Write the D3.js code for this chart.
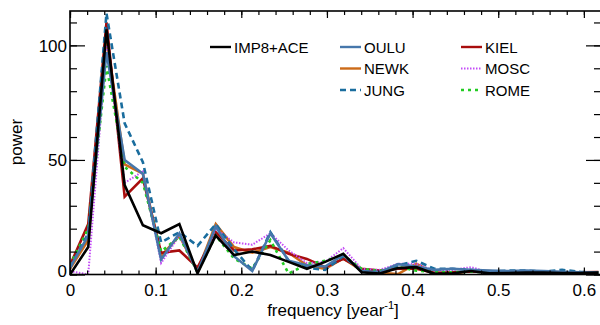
<!DOCTYPE html>
<html><head><meta charset="utf-8">
<script src="https://cdn.jsdelivr.net/npm/d3@7"></script>
<style>body{margin:0;background:#fff}svg{display:block;font-family:"Liberation Sans",Arial,sans-serif}</style>
</head><body><svg id="c" width="600" height="325"></svg>
<script>
const freq = [0, 0.0213, 0.0426, 0.0638, 0.0851, 0.1064, 0.1277, 0.1489, 0.1702, 0.1915, 0.2128, 0.2340, 0.2553, 0.2766, 0.2979, 0.3191, 0.3404, 0.3617, 0.3830, 0.4043, 0.4255, 0.4468, 0.4681, 0.4894, 0.5106, 0.5319, 0.5532, 0.5745, 0.5957, 0.6170];
const imp8 = [0, 12, 107, 39, 21.5, 18, 22, 0.5, 17, 8.5, 10, 8.5, 5.5, 2.5, 5.5, 9, 1, 0.4, 2.8, 3.2, 0.3, 0.5, 1.5, 0.5, 0.6, 0.8, 0.8, 0.6, 0.6, 0.8];
const oulu = [3, 17, 97, 50, 44, 6.5, 18, 1, 21, 8, 1.5, 18, 6, 4, 3.5, 8.5, 1.5, 1, 4.5, 3.5, 2, 2.5, 2, 1.7, 1.5, 1.7, 1.5, 1.2, 1, 0.8];
const newk = [2.5, 15, 104, 48, 44, 8, 17, 1.5, 22, 12, 9.5, 12, 9.5, 4, 2.5, 7, 1.7, 0.7, 0.2, 4.7, 0.7, 0.2, 1.7, 1.5, 1, 0.7, 1, 0.5, 0.5, 0.7];
const jung = [3, 18, 114, 66, 49, 14, 18.5, 12.5, 22, 11, 1.7, 18.5, 6, 3, 2, 8, 1.5, 1, 4, 6, 2.5, 2.5, 2, 1.3, 1.7, 1.7, 1.3, 2, 1.2, 0.8];
const kiel = [4, 22, 110, 34, 42, 9.5, 10.5, 3, 18.5, 10.5, 11, 12.5, 9, 6.8, 3.2, 6.8, 2.5, 1.7, 2.5, 2.5, 0.7, 1, 1.3, 1, 1, 1.2, 1.1, 1, 1, 1.1];
const mosc = [1.5, 0, 100, 40, 45, 5, 17, 1, 20, 14, 13, 18, 10.5, 5, 5.5, 11.5, 2.5, 2, 4.7, 4.7, 1.7, 2, 3.2, 1, 1, 1.2, 1, 1, 0.8, 0.8];
const rome = [4, 20, 91, 47, 40, 10, 16.5, 1, 17, 7, 2.6, 15, 0.4, 4.5, 6, 8.3, 2.5, 1.5, 3.3, 1.7, 1, 1, 1.2, 1, 0.8, 1, 0.8, 0.8, 0.7, 0.7];
const seriesNames = ["IMP8+ACE", "OULU", "NEWK", "JUNG", "KIEL", "MOSC", "ROME"];
const xTicks = [0, 0.1, 0.2, 0.3, 0.4, 0.5, 0.6];
const yTicks = [0, 50, 100];

const svg = d3.select("#c");
const L = 70, R = 601, T = 11, B = 274.5;
const x = d3.scaleLinear().domain([0, 0.62]).range([L, R]);
const y = d3.scaleLinear().domain([0, 115]).range([B, T]);

const styles = {
  "IMP8+ACE": {data: imp8, color: "#000000", w: 2.6, dash: null},
  "OULU": {data: oulu, color: "#4677ab", w: 2.6, dash: null},
  "NEWK": {data: newk, color: "#cc6a18", w: 2.6, dash: null},
  "JUNG": {data: jung, color: "#1a6d9e", w: 2.6, dash: "6,4"},
  "KIEL": {data: kiel, color: "#a80d0d", w: 2.6, dash: null},
  "MOSC": {data: mosc, color: "#c44cf7", w: 2, dash: "1.5,1.5"},
  "ROME": {data: rome, color: "#22cc22", w: 2.6, dash: "3,4"}
};
const drawOrder = ["NEWK", "KIEL", "MOSC", "ROME", "JUNG", "OULU", "IMP8+ACE"];

const g = svg.append("g");
g.append("clipPath").attr("id", "clip").append("rect").attr("x", L).attr("y", T - 3).attr("width", R - L).attr("height", B - T + 3);
const line = d3.line().x((d, i) => x(freq[i])).y(d => y(d));
const plot = g.append("g").attr("clip-path", "url(#clip)");
drawOrder.forEach(n => {
  const s = styles[n];
  plot.append("path").datum(s.data).attr("d", line).attr("fill", "none")
    .attr("stroke", s.color).attr("stroke-width", s.w)
    .attr("stroke-dasharray", s.dash).attr("stroke-linejoin", "miter");
});

const tickFmt = d => d === 0 ? "0" : d3.format(".1f")(d);
const xMajor = d3.axisBottom(x).tickValues(xTicks).tickSize(-7).tickFormat(tickFmt);
const xMinor = d3.axisBottom(x).tickValues(d3.range(0, 0.62, 0.02)).tickSize(-4).tickFormat("");
const xMajorT = d3.axisTop(x).tickValues(xTicks).tickSize(-7).tickFormat("");
const xMinorT = d3.axisTop(x).tickValues(d3.range(0, 0.62, 0.02)).tickSize(-4).tickFormat("");
const yMajor = d3.axisLeft(y).tickValues(yTicks).tickSize(-15).tickFormat(d3.format("d"));
const yMinor = d3.axisLeft(y).tickValues(d3.range(0, 115, 10)).tickSize(-7).tickFormat("");
const yMajorR = d3.axisRight(y).tickValues(yTicks).tickSize(-15).tickFormat("");
const yMinorR = d3.axisRight(y).tickValues(d3.range(0, 115, 10)).tickSize(-7).tickFormat("");

function styleAx(sel) {
  sel.select(".domain").remove();
  sel.selectAll("line").attr("stroke", "#000").attr("stroke-width", 1.2);
  sel.selectAll("text").attr("font-size", 17).attr("fill", "#000").attr("font-family", "Liberation Sans, Arial, sans-serif");
}
const axB = g.append("g").attr("transform", `translate(0,${B})`).call(xMajor).call(styleAx);
axB.selectAll("text").attr("y", 9).attr("dy", "0.71em");
g.append("g").attr("transform", `translate(0,${B})`).call(xMinor).call(styleAx);
g.append("g").attr("transform", `translate(0,${T})`).call(xMajorT).call(styleAx);
g.append("g").attr("transform", `translate(0,${T})`).call(xMinorT).call(styleAx);
const axL = g.append("g").attr("transform", `translate(${L},0)`).call(yMajor).call(styleAx);
axL.selectAll("text").attr("x", -3).attr("dy", "0.34em");
axL.selectAll(".tick").filter(d => d === 0).select("text").attr("dy", "0.1em");
g.append("g").attr("transform", `translate(${L},0)`).call(yMinor).call(styleAx);
g.append("g").attr("transform", `translate(${R},0)`).call(yMajorR).call(styleAx);
g.append("g").attr("transform", `translate(${R},0)`).call(yMinorR).call(styleAx);

g.append("rect").attr("x", L).attr("y", T).attr("width", R - L).attr("height", B - T)
  .attr("fill", "none").attr("stroke", "#000").attr("stroke-width", 1.6);

// axis titles
const xt = g.append("text").attr("x", 333).attr("y", 316).attr("text-anchor", "middle").attr("font-size", 17);
xt.append("tspan").text("frequency [year");
xt.append("tspan").attr("dy", -7).attr("font-size", 11).text("-1");
xt.append("tspan").attr("dy", 7).text("]");
g.append("text").attr("transform", "translate(22,142) rotate(-90)").attr("text-anchor", "middle")
  .attr("font-size", 17).text("power");

// legend
const legPos = {
  "IMP8+ACE": [210, 47], "OULU": [340, 47], "NEWK": [340, 68.5], "JUNG": [340, 90],
  "KIEL": [461, 47], "MOSC": [461, 68.5], "ROME": [461, 90]
};
seriesNames.forEach(n => {
  const s = styles[n], p = legPos[n];
  g.append("line").attr("x1", p[0]).attr("x2", p[0] + 21).attr("y1", p[1]).attr("y2", p[1])
    .attr("stroke", s.color).attr("stroke-width", n === "MOSC" ? 2 : 2.4).attr("stroke-dasharray", s.dash);
  g.append("text").attr("x", p[0] + 24).attr("y", p[1] + 5.5).attr("font-size", 15).attr("fill", "#000").text(n);
});
</script></body></html>
